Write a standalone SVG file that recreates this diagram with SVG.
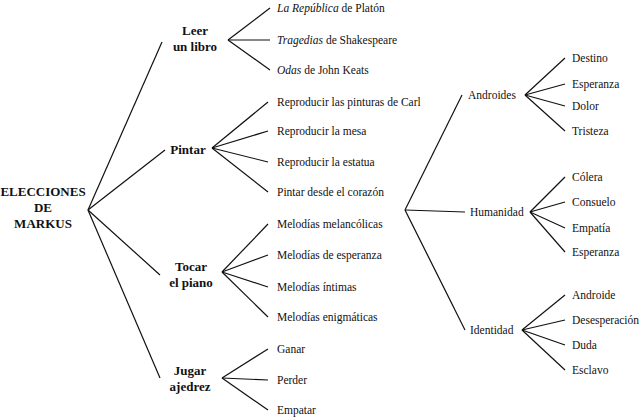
<svg xmlns="http://www.w3.org/2000/svg" width="640" height="419" viewBox="0 0 640 419">
<style>
text{font-family:"Liberation Serif",serif;font-size:11.5px;fill:#111}
.b{font-weight:bold;font-size:13px;text-anchor:middle}
.c line{stroke:#111;stroke-width:1.2}
</style>
<rect width="640" height="419" fill="#fff"/>
<g class="c">
<line x1="88" y1="210" x2="162" y2="42"/><line x1="88" y1="210" x2="165" y2="150"/><line x1="88" y1="210" x2="160" y2="275"/><line x1="88" y1="210" x2="160" y2="378"/>
<line x1="228" y1="40" x2="270" y2="8"/><line x1="228" y1="40" x2="270" y2="40"/><line x1="228" y1="40" x2="270" y2="70"/>
<line x1="212" y1="148" x2="268" y2="102"/><line x1="212" y1="148" x2="268" y2="131"/><line x1="212" y1="148" x2="268" y2="162"/><line x1="212" y1="148" x2="268" y2="192"/>
<line x1="222" y1="272" x2="268" y2="224"/><line x1="222" y1="272" x2="268" y2="255"/><line x1="222" y1="272" x2="268" y2="287"/><line x1="222" y1="272" x2="268" y2="317"/>
<line x1="222" y1="378" x2="268" y2="349"/><line x1="222" y1="378" x2="268" y2="380"/><line x1="222" y1="378" x2="268" y2="410"/>
<line x1="405" y1="210" x2="462" y2="95"/><line x1="405" y1="210" x2="465" y2="212"/><line x1="405" y1="210" x2="465" y2="330"/>
<line x1="525" y1="95" x2="565" y2="58"/><line x1="525" y1="95" x2="565" y2="84"/><line x1="525" y1="95" x2="565" y2="106"/><line x1="525" y1="95" x2="565" y2="131"/>
<line x1="530" y1="212" x2="565" y2="177"/><line x1="530" y1="212" x2="565" y2="202"/><line x1="530" y1="212" x2="565" y2="228"/><line x1="530" y1="212" x2="565" y2="252"/>
<line x1="522" y1="330" x2="565" y2="295"/><line x1="522" y1="330" x2="565" y2="320"/><line x1="522" y1="330" x2="565" y2="345"/><line x1="522" y1="330" x2="565" y2="370"/>
</g>
<g id="root"><text class="b" x="43" y="196">ELECCIONES</text><text class="b" x="43" y="212">DE</text><text class="b" x="43" y="228">MARKUS</text></g>
<g id="leer"><text class="b" x="195" y="35">Leer</text><text class="b" x="195" y="51">un libro</text></g>
<g id="pintar"><text class="b" x="188" y="154">Pintar</text></g>
<g id="tocar"><text class="b" x="191" y="271">Tocar</text><text class="b" x="191" y="287">el piano</text></g>
<g id="jugar"><text class="b" x="190" y="375">Jugar</text><text class="b" x="190" y="391">ajedrez</text></g>
<g id="l1"><text x="277" y="12"><tspan font-style="italic">La República</tspan> de Platón</text></g>
<g id="l2"><text x="277" y="44"><tspan font-style="italic">Tragedias</tspan> de Shakespeare</text></g>
<g id="l3"><text x="277" y="74"><tspan font-style="italic">Odas</tspan> de John Keats</text></g>
<g id="p1"><text x="277" y="106">Reproducir las pinturas de Carl</text></g>
<g id="p2"><text x="277" y="135">Reproducir la mesa</text></g>
<g id="p3"><text x="277" y="166">Reproducir la estatua</text></g>
<g id="p4"><text x="277" y="196">Pintar desde el corazón</text></g>
<g id="t1"><text x="277" y="228">Melodías melancólicas</text></g>
<g id="t2"><text x="277" y="259">Melodías de esperanza</text></g>
<g id="t3"><text x="277" y="291">Melodías íntimas</text></g>
<g id="t4"><text x="277" y="321">Melodías enigmáticas</text></g>
<g id="j1"><text x="277" y="353">Ganar</text></g>
<g id="j2"><text x="277" y="384">Perder</text></g>
<g id="j3"><text x="277" y="414">Empatar</text></g>
<g id="and"><text x="468" y="99">Androides</text></g>
<g id="hum"><text x="470" y="216">Humanidad</text></g>
<g id="ide"><text x="470" y="334">Identidad</text></g>
<g id="a1"><text x="572" y="62">Destino</text></g>
<g id="a2"><text x="572" y="88">Esperanza</text></g>
<g id="a3"><text x="572" y="110">Dolor</text></g>
<g id="a4"><text x="572" y="135">Tristeza</text></g>
<g id="h1"><text x="572" y="181">Cólera</text></g>
<g id="h2"><text x="572" y="206">Consuelo</text></g>
<g id="h3"><text x="572" y="232">Empatía</text></g>
<g id="h4"><text x="572" y="256">Esperanza</text></g>
<g id="i1"><text x="572" y="299">Androide</text></g>
<g id="i2"><text x="572" y="324">Desesperación</text></g>
<g id="i3"><text x="572" y="349">Duda</text></g>
<g id="i4"><text x="572" y="374">Esclavo</text></g>
</svg>
